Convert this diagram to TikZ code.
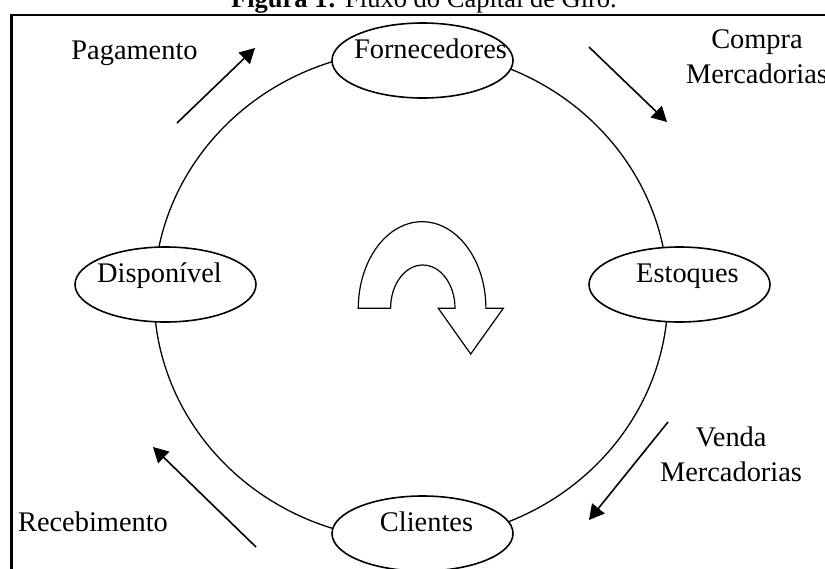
\documentclass[tikz,border=0pt]{standalone}
\usepackage{fontspec}
\setmainfont{Liberation Serif}
\usetikzlibrary{arrows.meta,shapes.geometric}
\newcommand{\nudge}[2]{\makebox[0pt]{\kern#1\kern#1#2}}

\begin{document}
\begin{tikzpicture}[x=0.5pt,y=-0.5pt,
    place/.style={draw, ellipse, fill=white, line width=0.8pt, inner sep=0pt,
      minimum width=90.5pt, minimum height=37.5pt,
      text height=10pt, text depth=12pt, font=\fontsize{14.2}{17.4}\selectfont},
    lbl/.style={inner sep=0pt, anchor=base, align=center, font=\fontsize{14.2}{17.4}\selectfont},
    flow/.style={-{Triangle[length=7.5pt,width=8pt]}, line width=0.8pt}]
  \useasboundingbox (0,0) rectangle (825,568);

  % frame and title
  \draw[line width=1.2pt] (11.6,15) rectangle (840,580);
  \node[anchor=base, inner sep=0pt, font=\fontsize{13.25}{16}\selectfont] (title) at (424,7.5)
    {\textbf{Figura 1:} Fluxo do Capital de Giro.};

  % cycle
  \draw[line width=0.65pt] (411,295) ellipse [x radius=257, y radius=245];
  \node[place] (forn) at (422.5,60.5) {\nudge{4pt}{Fornecedores}};
  \node[place] (disp) at (165.5,284.5) {\nudge{-3pt}{Disponível}};
  \node[place] (esto) at (679.5,284.5) {\nudge{4pt}{Estoques}};
  \node[place] (clie) at (422.5,533.5) {\nudge{2pt}{Clientes}};

  % turning arrow
  \draw[line width=0.6pt, fill=white] (358.3,308.3)
    arc[start angle=180, end angle=360, x radius=63.8, y radius=86.6]
    -- (503.3,308.3) -- (470.7,354) -- (438.3,308.3) -- (455,308.3)
    arc[start angle=360, end angle=180, x radius=32.2, y radius=43.3] -- cycle;

  % flows
  \coordinate (pagA) at (177,123);  \coordinate (pagB) at (255,48);
  \coordinate (comA) at (589,47);   \coordinate (comB) at (667,122);
  \coordinate (venA) at (668,422);  \coordinate (venB) at (589,520);
  \coordinate (recA) at (256,547);  \coordinate (recB) at (153,447);
  \draw[flow] (pagA) -- (pagB);
  \draw[flow] (comA) -- (comB);
  \draw[flow] (venA) -- (venB);
  \draw[flow] (recA) -- (recB);

  \node[lbl] (pag) at (134.5,59.3) {Pagamento};
  \node[lbl] (com) at (757,83.3) {Compra\\Mercadorias};
  \node[lbl] (ven) at (731,481.7) {Venda\\Mercadorias};
  \node[lbl] (rec) at (93,531.7) {Recebimento};
\end{tikzpicture}
\end{document}
